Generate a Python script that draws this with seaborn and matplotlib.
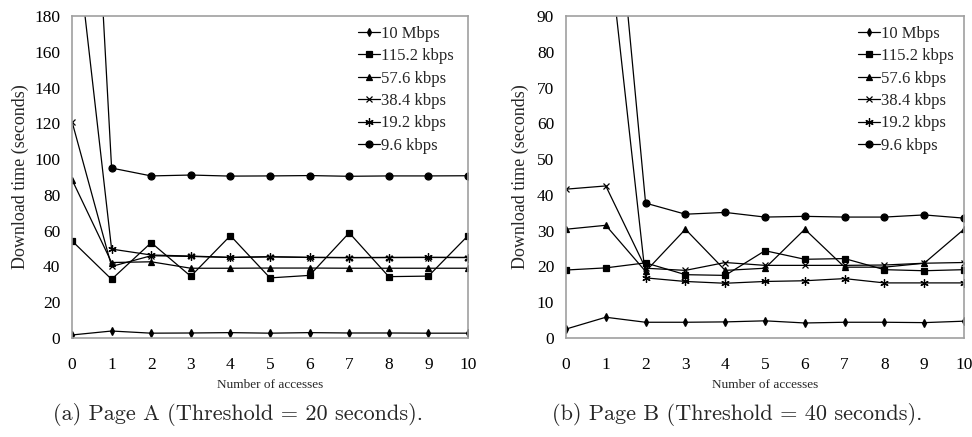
import numpy as np
import pandas as pd
import matplotlib
matplotlib.use("Agg")
import matplotlib.pyplot as plt
import seaborn as sns

sns.set_style("white")
plt.rcParams["font.family"] = ["Liberation Serif", "DejaVu Serif"]

accesses = list(range(11))
series_names = ["10 Mbps", "115.2 kbps", "57.6 kbps", "38.4 kbps", "19.2 kbps", "9.6 kbps"]

# Page A values (seconds)
a_10m = [1.7, 3.9, 2.7, 2.8, 3.0, 2.7, 3.0, 2.8, 2.8, 2.7, 2.7]
a_115 = [54.3, 32.8, 53.3, 34.5, 57.2, 33.6, 35.0, 58.8, 34.3, 34.6, 57.2]
a_576 = [88.5, 42.2, 42.6, 39.0, 39.0, 39.1, 39.1, 39.0, 39.0, 39.0, 39.0]
a_384 = [121.0, 40.0, 46.0, 45.6, 45.0, 45.4, 45.0, 44.9, 45.0, 45.0, 45.0]
a_192 = [244.0, 49.7, 46.4, 45.8, 45.1, 45.4, 45.1, 45.0, 45.0, 45.1, 45.0]
a_96 = [500.0, 95.0, 90.6, 91.1, 90.5, 90.6, 90.8, 90.4, 90.6, 90.6, 90.7]

# Page B values (seconds)
b_10m = [2.5, 5.8, 4.4, 4.4, 4.5, 4.8, 4.2, 4.4, 4.4, 4.3, 4.7]
b_115 = [19.0, 19.6, 21.0, 17.7, 17.5, 24.4, 22.0, 22.2, 19.1, 18.8, 19.1]
b_576 = [30.4, 31.5, 18.6, 30.4, 18.9, 19.5, 30.4, 19.8, 19.8, 20.9, 30.4]
b_384 = [41.6, 42.5, 19.5, 18.9, 21.1, 20.3, 20.3, 20.3, 20.4, 20.9, 21.1]
b_192 = [120.0, 117.0, 16.8, 15.8, 15.3, 15.8, 16.0, 16.6, 15.4, 15.4, 15.4]
b_96 = [160.0, 156.0, 37.7, 34.6, 35.1, 33.8, 34.0, 33.8, 33.8, 34.4, 33.5]

page_a = [a_10m, a_115, a_576, a_384, a_192, a_96]
page_b = [b_10m, b_115, b_576, b_384, b_192, b_96]

markers = ["d", "s", "^", "x", (6, 2, 0), "o"]
msizes = [4, 5, 5, 5, 6, 5]

x_label = "Number of accesses"
y_label = "Download time (seconds)"
captions = ["(a) Page A (Threshold = 20 seconds).", "(b) Page B (Threshold = 40 seconds)."]
ylims = [(0, 180), (0, 90)]
yticks = [list(range(0, 181, 20)), list(range(0, 91, 10))]

fig = plt.figure(figsize=(9.72, 4.37), dpi=100)
W, H = 972, 437
axes_px = [(72, 16, 468, 338), (566, 16, 964, 338)]
ylabel_x = [20, 520]
caption_cx = [238, 737]
legend_anchor = [(0.99, 1.0), (1.0, 1.0)]

for i, (data, (l, t, r, b)) in enumerate(zip([page_a, page_b], axes_px)):
    ax = fig.add_axes([l / W, 1 - b / H, (r - l) / W, (b - t) / H])
    for name, vals, mk, ms in zip(series_names, data, markers, msizes):
        df = pd.DataFrame({"x": accesses, "y": vals})
        sns.lineplot(data=df, x="x", y="y", ax=ax, color="black", linewidth=0.9,
                     marker=mk, markersize=ms, markeredgecolor="black",
                     markerfacecolor="black", markeredgewidth=0.9, label=name)
    ax.set_xlim(0, 10)
    ax.set_ylim(*ylims[i])
    ax.set_xticks(accesses)
    ax.set_yticks(yticks[i])
    ax.tick_params(axis="both", labelsize=12.5, colors="#999999", labelcolor="black",
                   length=3, width=1)
    ax.tick_params(axis="y", direction="in", pad=8.5)
    ax.tick_params(axis="x", direction="out", pad=10.5)
    for s in ax.spines.values():
        s.set_color("#a0a0a0")
        s.set_linewidth(1.2)
    ax.set_xlabel("")
    ax.set_ylabel("")
    leg = ax.legend(loc="upper right", bbox_to_anchor=legend_anchor[i], frameon=False,
                    fontsize=12, handlelength=1.3, handletextpad=0.1,
                    labelspacing=0.38, borderaxespad=0.2)
    cx = (l + r) / 2 / W
    fig.text(cx, 1 - 385 / H, x_label, ha="center", va="center", fontsize=9.5)
    fig.text(ylabel_x[i] / W, 1 - (t + b) / 2 / H, y_label, rotation=90,
             ha="center", va="center", fontsize=13)
    fig.text(caption_cx[i] / W, 1 - 415 / H, captions[i],
             ha="center", va="center", fontsize=16, family=["cmr10", "DejaVu Serif"])

fig.savefig("out.png", dpi=100)
